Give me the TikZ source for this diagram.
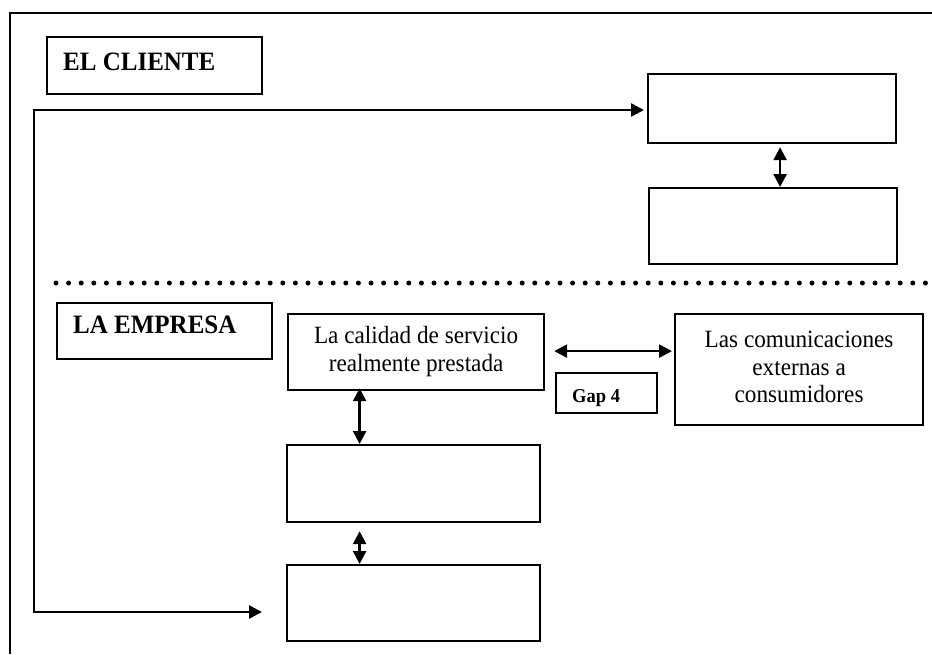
\documentclass[tikz,border=0pt]{standalone}
\usepackage{fontspec}
\setmainfont{Liberation Serif}
\usetikzlibrary{arrows.meta}

% text lines set a little taller than the font's own proportions
\newcommand{\tallrows}[1]{\scalebox{1}[1.07]{\begin{tabular}{@{}c@{}}#1\end{tabular}}}
\newcommand{\tallword}[1]{\scalebox{1}[1.06]{#1}}

\begin{document}
\begin{tikzpicture}[x=1pt,y=-1pt,
  box/.style={draw, line width=2.2pt, inner sep=0pt, anchor=north west},
  txtbox/.style={box, align=center, font=\fontsize{23.2}{26}\selectfont},
  heading/.style={anchor=base west, inner sep=0pt, font=\fontsize{25}{30}\selectfont\bfseries},
  arr/.style={line width=2.5pt,
    {Triangle[length=13pt,width=13pt]}-{Triangle[length=13pt,width=13pt]}},
  dots/.style={line width=5pt, line cap=round, dash pattern=on 0pt off 12.6pt}]

\useasboundingbox (0,0) rectangle (932,654);

% outer frame (open to the right and bottom)
\draw[line width=2.2pt] (10,654) -- (10,13) -- (932,13);

% customer side
\node[box, minimum width=215pt, minimum height=57pt] (cliente) at (46,36) {};
\node[heading] at ([xshift=17pt,yshift=-34pt]cliente.north west) {\tallword{EL CLIENTE}};
\node[box, minimum width=248pt, minimum height=69pt] (top1) at (647,73) {};
\node[box, minimum width=248pt, minimum height=76pt] (top2) at (648,187) {};

% separator between customer and company
\draw[dots] (56,283) -- (932,283);

% company side
\node[box, minimum width=215pt, minimum height=56pt] (empresa) at (56,302) {};
\node[heading] at ([xshift=17pt,yshift=-31pt]empresa.north west) {\tallword{LA EMPRESA}};
\node[txtbox, minimum width=256pt, minimum height=76pt] (calidad) at (287,313)
  {\tallrows{La calidad de servicio\\realmente prestada}};
\node[txtbox, minimum width=248pt, minimum height=111pt] (comun) at (674,313)
  {\tallrows{Las comunicaciones\\externas a\\consumidores}};
\node[box, minimum width=101pt, minimum height=40pt] (gap) at (555,372) {};
\node[anchor=base west, inner sep=0pt, font=\fontsize{18.5}{20}\selectfont\bfseries]
  at ([xshift=17pt,yshift=-30pt]gap.north west) {\tallword{Gap 4}};
\node[box, minimum width=253pt, minimum height=77pt] (mid) at (286,444) {};
\node[box, minimum width=253pt, minimum height=76pt] (low) at (286,564) {};

% connectors
\coordinate (ct) at (34,110);
\coordinate (cb) at (34,612);
\draw[arr, shorten >=3pt] ([xshift=-24pt]low.west |- cb) -- (cb) -- (ct) -- (ct -| top1.west);
\draw[arr, shorten <=3pt] ([xshift=8pt]top1.south) -- ([xshift=8pt]top1.south |- top2.north);
\draw[arr, shorten <=9pt, shorten >=2pt] ([yshift=1pt]calidad.east) -- ([yshift=1pt]calidad.east -| comun.west);
\draw[arr, shorten >=-3pt] ([xshift=-54pt]mid.north) -- ([xshift=-54pt]mid.north |- calidad.south);
\draw[arr, shorten <=8pt] ([xshift=-54pt]mid.south) -- ([xshift=-54pt]low.north);

\end{tikzpicture}
\end{document}
